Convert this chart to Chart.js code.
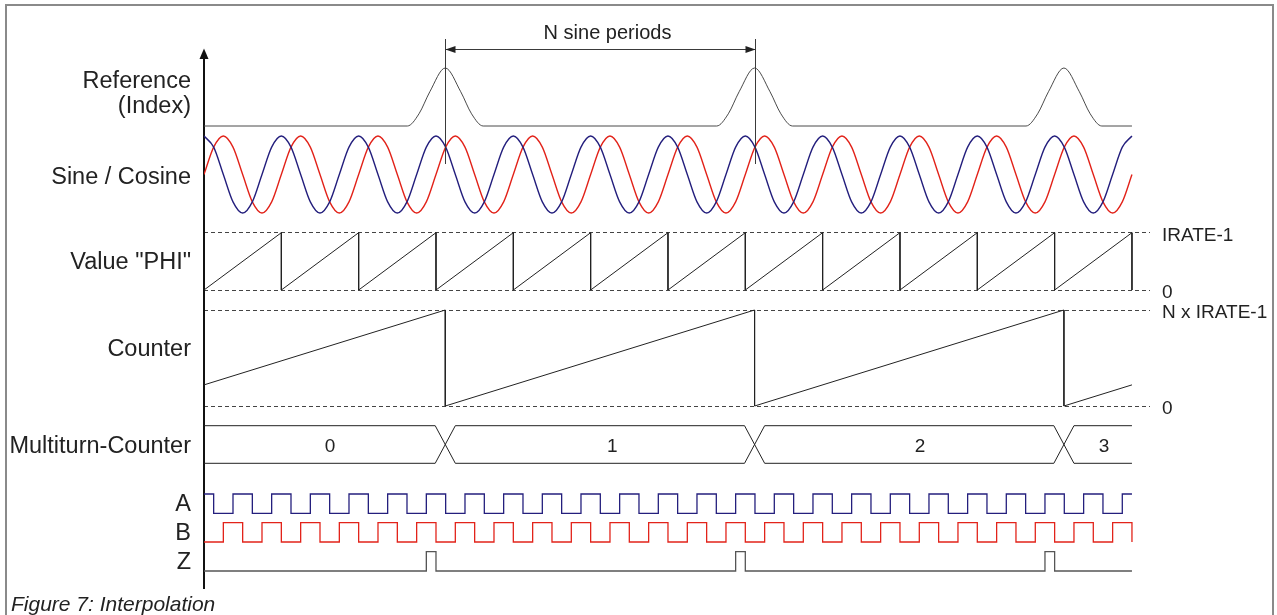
<!DOCTYPE html>
<html>
<head>
<meta charset="utf-8">
<title>Figure 7: Interpolation</title>
<script src="https://cdn.jsdelivr.net/npm/chart.js@4.4.1/dist/chart.umd.min.js"></script>
<style>
  html, body { margin: 0; padding: 0; background: #fff; overflow: hidden; }
  #frame { position: absolute; left: 5px; top: 4px; width: 1265px; height: 660px; border: 2px solid #8a8a8a; }
  #chart { position: absolute; left: 0; top: 0; }
</style>
</head>
<body>
<div id="frame"></div>
<canvas id="chart" width="1277" height="615"></canvas>
<script>

// Señal de referencia (índice): tres pulsos
const refX = [0,
  2.63, 2.78, 2.92, 3.12, 3.32, 3.46, 3.61,
  6.63, 6.78, 6.92, 7.12, 7.32, 7.46, 7.61,
  10.63, 10.78, 10.92, 11.12, 11.32, 11.46, 11.61,
  12];
const refY = [0,
  0, 0.21, 0.59, 1, 0.59, 0.21, 0,
  0, 0.21, 0.59, 1, 0.59, 0.21, 0,
  0, 0.21, 0.59, 1, 0.59, 0.21, 0,
  0];
const refPeaks = [3.12, 7.12, 11.12];

// Seno / coseno, un punto cada 1/8 de periodo
const sineX = [
  0, 0.125, 0.25, 0.375, 0.5, 0.625, 0.75, 0.875,
  1, 1.125, 1.25, 1.375, 1.5, 1.625, 1.75, 1.875,
  2, 2.125, 2.25, 2.375, 2.5, 2.625, 2.75, 2.875,
  3, 3.125, 3.25, 3.375, 3.5, 3.625, 3.75, 3.875,
  4, 4.125, 4.25, 4.375, 4.5, 4.625, 4.75, 4.875,
  5, 5.125, 5.25, 5.375, 5.5, 5.625, 5.75, 5.875,
  6, 6.125, 6.25, 6.375, 6.5, 6.625, 6.75, 6.875,
  7, 7.125, 7.25, 7.375, 7.5, 7.625, 7.75, 7.875,
  8, 8.125, 8.25, 8.375, 8.5, 8.625, 8.75, 8.875,
  9, 9.125, 9.25, 9.375, 9.5, 9.625, 9.75, 9.875,
  10, 10.125, 10.25, 10.375, 10.5, 10.625, 10.75, 10.875,
  11, 11.125, 11.25, 11.375, 11.5, 11.625, 11.75, 11.875,
  12];
const cosY = [
  1, 0.71, 0, -0.71, -1, -0.71, 0, 0.71,
  1, 0.71, 0, -0.71, -1, -0.71, 0, 0.71,
  1, 0.71, 0, -0.71, -1, -0.71, 0, 0.71,
  1, 0.71, 0, -0.71, -1, -0.71, 0, 0.71,
  1, 0.71, 0, -0.71, -1, -0.71, 0, 0.71,
  1, 0.71, 0, -0.71, -1, -0.71, 0, 0.71,
  1, 0.71, 0, -0.71, -1, -0.71, 0, 0.71,
  1, 0.71, 0, -0.71, -1, -0.71, 0, 0.71,
  1, 0.71, 0, -0.71, -1, -0.71, 0, 0.71,
  1, 0.71, 0, -0.71, -1, -0.71, 0, 0.71,
  1, 0.71, 0, -0.71, -1, -0.71, 0, 0.71,
  1, 0.71, 0, -0.71, -1, -0.71, 0, 0.71,
  1];
const sinY = [
  0, 0.71, 1, 0.71, 0, -0.71, -1, -0.71,
  0, 0.71, 1, 0.71, 0, -0.71, -1, -0.71,
  0, 0.71, 1, 0.71, 0, -0.71, -1, -0.71,
  0, 0.71, 1, 0.71, 0, -0.71, -1, -0.71,
  0, 0.71, 1, 0.71, 0, -0.71, -1, -0.71,
  0, 0.71, 1, 0.71, 0, -0.71, -1, -0.71,
  0, 0.71, 1, 0.71, 0, -0.71, -1, -0.71,
  0, 0.71, 1, 0.71, 0, -0.71, -1, -0.71,
  0, 0.71, 1, 0.71, 0, -0.71, -1, -0.71,
  0, 0.71, 1, 0.71, 0, -0.71, -1, -0.71,
  0, 0.71, 1, 0.71, 0, -0.71, -1, -0.71,
  0, 0.71, 1, 0.71, 0, -0.71, -1, -0.71,
  0];

// Valor "PHI" (diente de sierra, 1 = IRATE-1)
const phiX = [0, 1, 1, 2, 2, 3, 3, 4, 4, 5, 5, 6, 6, 7, 7, 8, 8, 9, 9, 10, 10, 11, 11, 12, 12];
const phiY = [0, 1, 0, 1, 0, 1, 0, 1, 0, 1, 0, 1, 0, 1, 0, 1, 0, 1, 0, 1, 0, 1, 0, 1, 0];

// Contador (4 = N x IRATE-1), se pone a cero en cada referencia
const cntX = [0, 3.12, 3.12, 7.12, 7.12, 11.12, 11.12, 12];
const cntY = [0.88, 4, 0, 4, 0, 4, 0, 0.88];

// Contador multivuelta (bus)
const busX = [0, 2.99, 3.25, 6.99, 7.25, 10.99, 11.25, 12];
const busUpper = [1, 1, -1, -1, 1, 1, -1, -1];
const busLower = [-1, -1, 1, 1, -1, -1, 1, 1];
const turnLabels = ['0', '1', '2', '3'];
const turnLabelX = [1.63, 5.28, 9.26, 11.64];

// Salidas A, B, Z (cada punto = flanco, el valor empieza en esa x)
const aX = [0,
  0.125, 0.375, 0.625, 0.875, 1.125, 1.375, 1.625, 1.875,
  2.125, 2.375, 2.625, 2.875, 3.125, 3.375, 3.625, 3.875,
  4.125, 4.375, 4.625, 4.875, 5.125, 5.375, 5.625, 5.875,
  6.125, 6.375, 6.625, 6.875, 7.125, 7.375, 7.625, 7.875,
  8.125, 8.375, 8.625, 8.875, 9.125, 9.375, 9.625, 9.875,
  10.125, 10.375, 10.625, 10.875, 11.125, 11.375, 11.625, 11.875,
  12];
const aY = [1,
  0, 1, 0, 1, 0, 1, 0, 1,
  0, 1, 0, 1, 0, 1, 0, 1,
  0, 1, 0, 1, 0, 1, 0, 1,
  0, 1, 0, 1, 0, 1, 0, 1,
  0, 1, 0, 1, 0, 1, 0, 1,
  0, 1, 0, 1, 0, 1, 0, 1,
  1];
const bX = [0,
  0.25, 0.5, 0.75, 1, 1.25, 1.5, 1.75, 2,
  2.25, 2.5, 2.75, 3, 3.25, 3.5, 3.75, 4,
  4.25, 4.5, 4.75, 5, 5.25, 5.5, 5.75, 6,
  6.25, 6.5, 6.75, 7, 7.25, 7.5, 7.75, 8,
  8.25, 8.5, 8.75, 9, 9.25, 9.5, 9.75, 10,
  10.25, 10.5, 10.75, 11, 11.25, 11.5, 11.75, 12];
const bY = [0,
  1, 0, 1, 0, 1, 0, 1, 0,
  1, 0, 1, 0, 1, 0, 1, 0,
  1, 0, 1, 0, 1, 0, 1, 0,
  1, 0, 1, 0, 1, 0, 1, 0,
  1, 0, 1, 0, 1, 0, 1, 0,
  1, 0, 1, 0, 1, 0, 1, 0];
const zX = [0, 2.875, 3, 6.875, 7, 10.875, 11, 12];
const zY = [0, 1, 0, 1, 0, 1, 0, 0];

// Textos
const leftLabels = [['Reference', '(Index)'], 'Sine / Cosine', 'Value "PHI"', 'Counter', 'Multiturn-Counter', 'A', 'B', 'Z'];
const rightLabels = ['IRATE-1', '0', 'N x IRATE-1', '0'];
const spanLabel = 'N sine periods';
const caption = 'Figure 7: Interpolation';

// ---- Maquetación (filas en píxeles del lienzo) ----
const FONT = '"Liberation Sans", Arial, Helvetica, sans-serif';
const BLUE = '#241f7d';
const RED = '#e2231a';
const INK = '#222';
const H = 615;
const TOP = 52;
const TITLE_H = 21 * 1.2 + 1;
const BOTTOM = H - TITLE_H;
const AXIS_X = 204;
const RIGHT_X = 1150;
const PERIOD_PX = 77.33;

// banda de cada traza: [fila del valor bajo, fila del valor alto, valor bajo, valor alto]
const bands = {
  ref: [126, 68, 0, 1],
  sin: [213, 136, -1, 1],
  phi: [290, 232.7, 0, 1],
  cnt: [406, 310, 0, 4],
  bus: [463.3, 425.7, -1, 1],
  a: [513.3, 494, 0, 1],
  b: [542, 522.7, 0, 1],
  z: [571, 551.7, 0, 1]
};
const leftRows = [94, 178, 262.6, 349.3, 447, 504.6, 533.6, 563];
const rightRows = [bands.phi[1], bands.phi[0], bands.cnt[1], bands.cnt[0]];

// Eje oculto cuyo rango coloca la traza en su banda
function bandAxis(b) {
  const [pxLow, pxHigh, vLow, vHigh] = b;
  const k = (pxLow - pxHigh) / (vHigh - vLow);
  return {
    type: 'linear', display: false,
    min: vLow - (BOTTOM - pxLow) / k,
    max: vHigh + (pxHigh - TOP) / k
  };
}

function serie(xs, ys, axis, color, width, extra) {
  return Object.assign({
    data: xs.map((x, i) => ({ x: x, y: ys[i] })),
    yAxisID: axis,
    showLine: true,
    pointRadius: 0,
    borderColor: color,
    borderWidth: width,
    fill: false
  }, extra || {});
}

const mono = { cubicInterpolationMode: 'monotone' };
const step = { stepped: true };

// Flechas, marcas y rótulos que no son ejes
const decor = {
  id: 'decor',
  afterDatasetsDraw(chart) {
    const ctx = chart.ctx;
    const xs = chart.scales.x;
    const left = chart.chartArea.left;
    ctx.save();
    // punta de flecha del eje vertical
    ctx.fillStyle = '#111';
    ctx.beginPath();
    ctx.moveTo(left, 48.5);
    ctx.lineTo(left - 4.5, 59);
    ctx.lineTo(left + 4.5, 59);
    ctx.closePath();
    ctx.fill();
    // líneas verticales en los dos primeros pulsos y cota entre ellas
    const p1 = Math.round(xs.getPixelForValue(refPeaks[0])) + 0.5;
    const p2 = Math.round(xs.getPixelForValue(refPeaks[1])) + 0.5;
    ctx.strokeStyle = '#3a3a3a';
    ctx.lineWidth = 1;
    ctx.beginPath();
    ctx.moveTo(p1, 39); ctx.lineTo(p1, 164);
    ctx.moveTo(p2, 39); ctx.lineTo(p2, 164);
    ctx.moveTo(p1, 49.5); ctx.lineTo(p2, 49.5);
    ctx.stroke();
    ctx.fillStyle = INK;
    ctx.beginPath();
    ctx.moveTo(p1, 49.5); ctx.lineTo(p1 + 10, 46); ctx.lineTo(p1 + 10, 53); ctx.closePath();
    ctx.moveTo(p2, 49.5); ctx.lineTo(p2 - 10, 46); ctx.lineTo(p2 - 10, 53); ctx.closePath();
    ctx.fill();
    ctx.font = '20px ' + FONT;
    ctx.textAlign = 'center';
    ctx.textBaseline = 'alphabetic';
    ctx.fillText(spanLabel, (p1 + p2) / 2 + 7, 39);
    // valores del contador multivuelta
    const yb = chart.scales.yBus.getPixelForValue(0) + 2;
    ctx.font = '19px ' + FONT;
    ctx.textBaseline = 'middle';
    turnLabels.forEach((t, i) => ctx.fillText(t, xs.getPixelForValue(turnLabelX[i]), yb));
    ctx.restore();
  }
};

const scales = {
  x: { type: 'linear', display: false, min: 0, max: (RIGHT_X - AXIS_X) / PERIOD_PX },
  yLab: {
    type: 'linear', position: 'left', reverse: true, min: TOP, max: BOTTOM, bounds: 'data',
    afterFit: s => { s.width = AXIS_X - 11; },
    // de abajo arriba, para que el rótulo de dos líneas no añada margen inferior
    afterBuildTicks: s => { s.ticks = leftRows.map(v => ({ value: v })).reverse(); },
    ticks: {
      autoSkip: false, padding: 13, color: INK,
      font: { family: FONT, size: 23.5, lineHeight: 1.08 },
      callback: v => leftLabels[leftRows.indexOf(v)]
    },
    grid: { display: false, drawTicks: false },
    border: { display: true, color: '#111', width: 2 }
  },
  yRight: {
    type: 'linear', position: 'right', reverse: true, min: TOP, max: BOTTOM, bounds: 'data',
    afterFit: s => { s.width = 1277 - RIGHT_X; },
    afterBuildTicks: s => { s.ticks = rightRows.map(v => ({ value: v })); },
    ticks: {
      autoSkip: false, padding: 12, labelOffset: 3, color: INK,
      font: { family: FONT, size: 19 },
      callback: (v, i) => rightLabels[i]
    },
    grid: { display: true, drawTicks: false, color: '#444', lineWidth: 1 },
    border: { display: false, dash: [4, 3] }
  },
  yRef: bandAxis(bands.ref),
  ySin: bandAxis(bands.sin),
  yPhi: bandAxis(bands.phi),
  yCnt: bandAxis(bands.cnt),
  yBus: bandAxis(bands.bus),
  yA: bandAxis(bands.a),
  yB: bandAxis(bands.b),
  yZ: bandAxis(bands.z)
};

new Chart(document.getElementById('chart'), {
  type: 'scatter',
  data: {
    datasets: [
      serie(refX, refY, 'yRef', '#4a4a4a', 1, mono),
      serie(sineX, cosY, 'ySin', BLUE, 1.4, mono),
      serie(sineX, sinY, 'ySin', RED, 1.4, mono),
      serie(phiX, phiY, 'yPhi', INK, 1),
      serie(cntX, cntY, 'yCnt', INK, 1),
      serie(busX, busUpper, 'yBus', INK, 1),
      serie(busX, busLower, 'yBus', INK, 1),
      serie(aX, aY, 'yA', BLUE, 1.3, step),
      serie(bX, bY, 'yB', RED, 1.3, step),
      serie(zX, zY, 'yZ', '#555', 1.3, step)
    ]
  },
  options: {
    responsive: false,
    animation: false,
    events: [],
    layout: { padding: { left: 11, top: TOP, right: 0, bottom: 0 }, autoPadding: false },
    scales: scales,
    plugins: {
      legend: { display: false },
      tooltip: { enabled: false },
      title: {
        display: true, text: caption, position: 'bottom', align: 'start', color: INK,
        // misma altura total (26.2 px) pero el texto baja un poco
        padding: { top: 3.5, bottom: -2.5 },
        font: { family: FONT, size: 21, style: 'italic', weight: 'normal', lineHeight: 1.2 }
      }
    }
  },
  plugins: [decor]
});
</script>
</body>
</html>
